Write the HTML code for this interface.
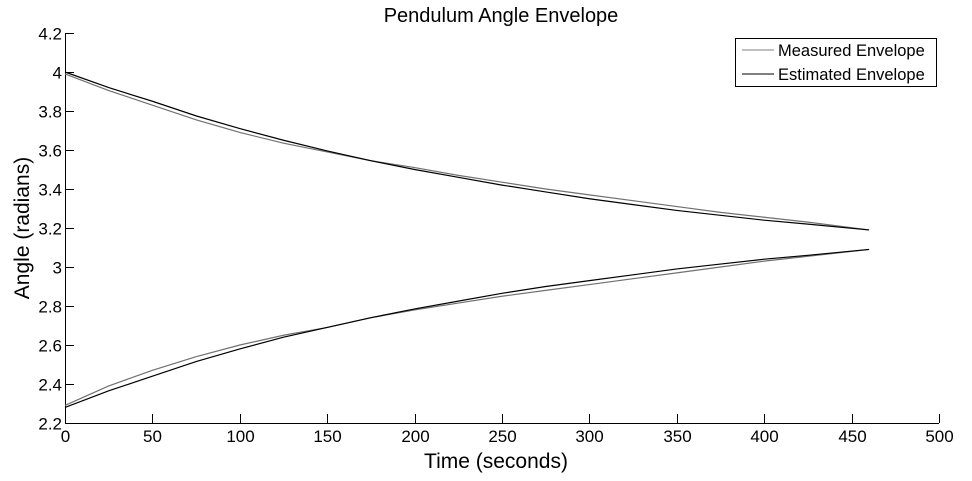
<!DOCTYPE html>
<html><head><meta charset="utf-8"><style>
body{margin:0;background:#fff;width:972px;height:476px;overflow:hidden}
svg text{font-family:"Liberation Sans",sans-serif;fill:#000}
</style></head><body>
<svg id="chart" width="972" height="476" xmlns="http://www.w3.org/2000/svg">
<text x="501" y="22" font-size="20" text-anchor="middle">Pendulum Angle Envelope</text>
<text x="496" y="468" font-size="21" text-anchor="middle">Time (seconds)</text>
<text transform="translate(29,228) rotate(-90)" font-size="21" text-anchor="middle">Angle (radians)</text>
<g id="axes"></g><g id="series"></g>
<g>
<rect x="735.5" y="38.5" width="201" height="48" fill="#fff" stroke="#000" stroke-width="1"/>
<line x1="742" y1="50" x2="774" y2="50" stroke="#808080" stroke-width="1"/>
<text x="778" y="56" font-size="16.5">Measured Envelope</text>
<line x1="742" y1="74" x2="774" y2="74" stroke="#000" stroke-width="1"/>
<text x="778" y="80" font-size="16.5">Estimated Envelope</text>
</g>
</svg>
<script>
const times=[0,25,50,75,100,125,150,175,200,225,250,275,300,325,350,375,400,425,460];
const upperMeasured=[3.99,3.905,3.83,3.755,3.69,3.635,3.59,3.545,3.51,3.47,3.435,3.40,3.37,3.34,3.31,3.28,3.255,3.23,3.19];
const upperEstimated=[4.0,3.92,3.85,3.775,3.71,3.65,3.595,3.545,3.50,3.46,3.42,3.385,3.35,3.32,3.29,3.265,3.24,3.22,3.19];
const lowerMeasured=[2.29,2.39,2.47,2.54,2.60,2.65,2.69,2.74,2.78,2.815,2.85,2.88,2.91,2.94,2.97,3.00,3.03,3.055,3.09];
const lowerEstimated=[2.28,2.365,2.44,2.515,2.58,2.64,2.69,2.74,2.785,2.825,2.865,2.90,2.93,2.96,2.99,3.015,3.04,3.06,3.09];
const xTicks=[0,50,100,150,200,250,300,350,400,450,500];
const yTicks=[2.2,2.4,2.6,2.8,3,3.2,3.4,3.6,3.8,4,4.2];
const X0=65,X1=939,Y0=423,Y1=33;
const xs=v=>X0+(v-0)/(500-0)*(X1-X0);
const ys=v=>Y0-(v-2.2)/(4.2-2.2)*(Y0-Y1);
const NS="http://www.w3.org/2000/svg";
const axes=document.getElementById('axes'),ser=document.getElementById('series');
function mk(t,a,p){const e=document.createElementNS(NS,t);for(const k in a)e.setAttribute(k,a[k]);p.appendChild(e);return e;}
const xl=mk('line',{x1:X0,y1:Y0+0.5,x2:X1,y2:Y0+0.5,stroke:'#000'},axes);


const yl=mk('line',{x1:X0+0.5,y1:Y0,x2:X0+0.5,y2:Y1,stroke:'#000'},axes);


xTicks.forEach(v=>{const x=Math.round(xs(v))+0.5;
 mk('line',{x1:x,y1:Y0,x2:x,y2:Y0-9,stroke:'#000'},axes);
 const t=mk('text',{x:x,y:Y0+19,'font-size':17,'text-anchor':'middle'},axes);t.textContent=v;
 
 });
yTicks.forEach(v=>{const y=Math.round(ys(v))+0.5;
 mk('line',{x1:X0,y1:y,x2:X0+9,y2:y,stroke:'#000'},axes);
 const t=mk('text',{x:X0-3,y:y+6,'font-size':17,'text-anchor':'end'},axes);t.textContent=+v.toFixed(1);
 
 });
function line(vals,color,name){
 const p=mk('polyline',{points:vals.map((v,i)=>xs(times[i])+','+ys(v)).join(' '),fill:'none',stroke:color,'stroke-width':1.2},ser);
 
 }
line(upperMeasured,'#707070','upper-measured-line');
line(lowerMeasured,'#707070','lower-measured-line');
line(upperEstimated,'#000','upper-estimated-line');
line(lowerEstimated,'#000','lower-estimated-line');
</script>
</body></html>
